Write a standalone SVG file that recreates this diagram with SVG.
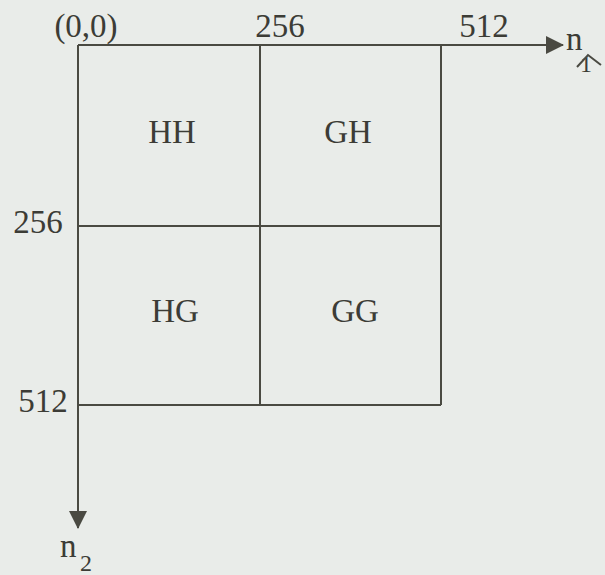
<svg xmlns="http://www.w3.org/2000/svg" width="605" height="575" viewBox="0 0 605 575">
<style>
text{font-family:"Liberation Serif","Times New Roman",serif;fill:#3c3c36}
.lbl{font-size:33px}
.ax{font-size:33px}
.sub{font-size:24px}
.ln{stroke:#4a4a42;stroke-width:2;fill:none}
</style>
<defs>
<marker id="ah" markerWidth="18" markerHeight="18" refX="17" refY="9" orient="auto" markerUnits="userSpaceOnUse">
<path d="M0,0 L18,9 L0,18 Z" fill="#4a4a42"/>
</marker>
</defs>
<rect width="605" height="575" fill="#e9ece9"/>
<g id="connectors">
<line class="ln" x1="78" y1="45" x2="563" y2="45" marker-end="url(#ah)"/>
<line class="ln" x1="78" y1="45" x2="78" y2="528" marker-end="url(#ah)"/>
<line class="ln" x1="260" y1="45" x2="260" y2="405"/>
<line class="ln" x1="441" y1="45" x2="441" y2="405"/>
<line class="ln" x1="78" y1="226" x2="441" y2="226"/>
<line class="ln" x1="78" y1="405" x2="441" y2="405"/>
</g>
<g id="HH"><text class="lbl" x="172" y="143" text-anchor="middle">HH</text></g>
<g id="GH"><text class="lbl" x="348" y="143" text-anchor="middle">GH</text></g>
<g id="HG"><text class="lbl" x="175" y="322" text-anchor="middle">HG</text></g>
<g id="GG"><text class="lbl" x="355" y="322" text-anchor="middle">GG</text></g>
<g id="axis-labels">
<text class="ax" x="86" y="37" text-anchor="middle">(0,0)</text>
<text class="ax" x="280" y="37" text-anchor="middle">256</text>
<text class="ax" x="484" y="37" text-anchor="middle">512</text>
<text class="ax" x="38" y="233" text-anchor="middle">256</text>
<text class="ax" x="43" y="412" text-anchor="middle">512</text>
<text class="ax" x="566" y="50">n</text>
<text class="sub" x="580" y="72">1</text>
<path d="M577,67 L588,55 L601,65" class="ln" stroke-width="1.5"/>
<text class="ax" x="60" y="557">n</text>
<text class="sub" x="80" y="571">2</text>
</g>
</svg>
